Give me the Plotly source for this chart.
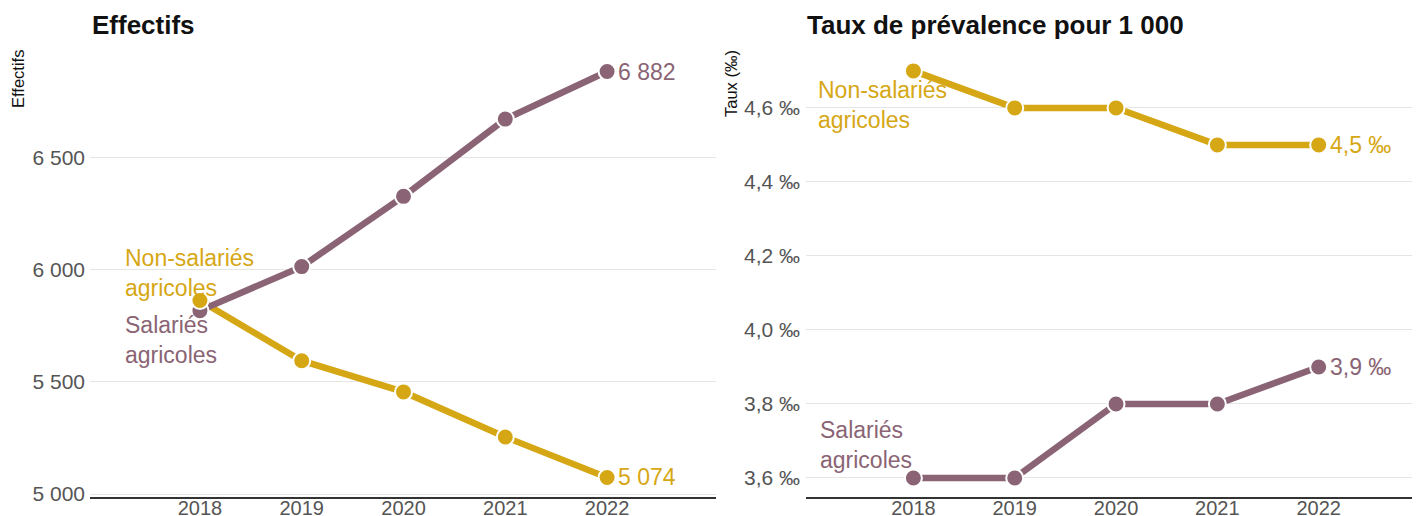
import plotly.graph_objects as go

years = [2018, 2019, 2020, 2021, 2022]
eff_salaries = [5817, 6013, 6326, 6670, 6882]
eff_non_salaries = [5862, 5594, 5455, 5254, 5074]
taux_salaries = [3.6, 3.6, 3.8, 3.8, 3.9]
taux_non_salaries = [4.7, 4.6, 4.6, 4.5, 4.5]

eff_tickvals = [5000, 5500, 6000, 6500]
eff_ticktext = ["5 000", "5 500", "6 000", "6 500"]
taux_tickvals = [3.6, 3.8, 4.0, 4.2, 4.4, 4.6]
taux_ticktext = ["3,6 ‰", "3,8 ‰", "4,0 ‰", "4,2 ‰", "4,4 ‰", "4,6 ‰"]

PURPLE = "#8a6474"
GOLD = "#d6a715"
FONT = "Liberation Sans, Arial, sans-serif"

OFF = 8  # browser body margin
W, H = 1420 - OFF, 516 - OFF
T, B = 45, 497  # plot top / bottom in page pixels


def px(x):
    return (x - OFF) / W


def py(y):
    return (B - y) / (B - T)


fig = go.Figure()


def add_line(x, y, color, xa, ya):
    fig.add_trace(go.Scatter(
        x=x, y=y, mode="lines", xaxis=xa, yaxis=ya,
        line=dict(color=color, width=6.5),
        hoverinfo="skip", showlegend=False, cliponaxis=False))


def add_markers(x, y, color, xa, ya):
    fig.add_trace(go.Scatter(
        x=x, y=y, mode="markers", xaxis=xa, yaxis=ya,
        marker=dict(size=17, color=color, line=dict(color="white", width=2)),
        hoverinfo="skip", showlegend=False, cliponaxis=False))


# draw order: gold line, purple line, purple markers, gold markers
add_line(years, eff_non_salaries, GOLD, "x", "y")
add_line(years, eff_salaries, PURPLE, "x", "y")
add_markers(years, eff_salaries, PURPLE, "x", "y")
add_markers(years, eff_non_salaries, GOLD, "x", "y")

add_line(years, taux_non_salaries, GOLD, "x2", "y2")
add_line(years, taux_salaries, PURPLE, "x2", "y2")
add_markers(years, taux_salaries, PURPLE, "x2", "y2")
add_markers(years, taux_non_salaries, GOLD, "x2", "y2")

tickfont = dict(family=FONT, size=21, color="#555555")
xtickfont = dict(family=FONT, size=20, color="#555555")

fig.update_layout(
    width=W, height=H, autosize=False,
    margin=dict(l=0, r=0, t=T - OFF, b=H - (B - OFF), pad=0),
    paper_bgcolor="white", plot_bgcolor="white",
    font=dict(family=FONT),
    xaxis=dict(domain=[px(90), px(716)], range=[2016.92, 2023.07],
               tickvals=years, ticktext=[str(y) for y in years],
               showgrid=False, zeroline=False, ticks="", ticklen=0, fixedrange=True,
               showline=True, linecolor="#333333", linewidth=2, tickfont=xtickfont,
               ticklabelstandoff=-8, automargin=False, anchor="y"),
    yaxis=dict(domain=[0, 1], range=[4987, 7000],
               tickvals=eff_tickvals, ticktext=eff_ticktext,
               showgrid=True, gridcolor="#e5e5e5", gridwidth=1,
               zeroline=False, ticks="", fixedrange=True, tickfont=tickfont,
               ticklabelstandoff=4, automargin=False, anchor="x"),
    xaxis2=dict(domain=[px(806), 1.0], range=[2016.94, 2023.0],
                tickvals=years, ticktext=[str(y) for y in years],
                showgrid=False, zeroline=False, ticks="", ticklen=0, fixedrange=True,
                showline=True, linecolor="#333333", linewidth=2, tickfont=xtickfont,
                ticklabelstandoff=-8, automargin=False, anchor="y2"),
    yaxis2=dict(domain=[0, 1], range=[3.5486, 4.77],
                tickvals=taux_tickvals, ticktext=taux_ticktext,
                showgrid=True, gridcolor="#e5e5e5", gridwidth=1,
                zeroline=False, ticks="", fixedrange=True, tickfont=tickfont,
                ticklabelstandoff=5, automargin=False, anchor="x2"),
)

ann = []
# Titles
ann.append(dict(text="<b>Effectifs</b>", x=px(90), y=py(25), xref="paper", yref="paper",
                xanchor="left", yanchor="middle", showarrow=False,
                font=dict(family=FONT, size=26, color="#111111")))
ann.append(dict(text="<b>Taux de prévalence pour 1 000</b>", x=px(805), y=py(25),
                xref="paper", yref="paper", xanchor="left", yanchor="middle",
                showarrow=False, font=dict(family=FONT, size=26, color="#111111")))
# Axis titles
ann.append(dict(text="Effectifs", x=px(18), y=py(79), xref="paper", yref="paper",
                textangle=-90, xanchor="center", yanchor="middle", showarrow=False,
                font=dict(family=FONT, size=16.5, color="#111111")))
ann.append(dict(text="Taux (‰)", x=px(731), y=py(84), xref="paper", yref="paper",
                textangle=-90, xanchor="center", yanchor="middle", showarrow=False,
                font=dict(family=FONT, size=16.5, color="#111111")))


# Series labels
def lab(text, x, y, color):
    ann.append(dict(text=text, x=px(x), y=py(y), xref="paper", yref="paper",
                    xanchor="left", yanchor="middle", align="left", showarrow=False,
                    font=dict(family=FONT, size=23, color=color)))


lab("Non-salariés<br>agricoles", 123, 273, GOLD)
lab("Salariés<br>agricoles", 123, 340, PURPLE)
lab("Non-salariés<br>agricoles", 816, 105, GOLD)
lab("Salariés<br>agricoles", 818, 445, PURPLE)


# End value labels
def end_label(text, xa, ya, yv, color):
    ann.append(dict(text=text, x=years[-1], y=yv, xref=xa, yref=ya,
                    xanchor="left", yanchor="middle", xshift=9, showarrow=False,
                    font=dict(family=FONT, size=23, color=color)))


end_label("6 882", "x", "y", eff_salaries[-1], PURPLE)
end_label("5 074", "x", "y", eff_non_salaries[-1], GOLD)
end_label("4,5 ‰", "x2", "y2", taux_non_salaries[-1], GOLD)
end_label("3,9 ‰", "x2", "y2", taux_salaries[-1], PURPLE)

fig.update_layout(annotations=ann)

fig.write_html("out.html")
